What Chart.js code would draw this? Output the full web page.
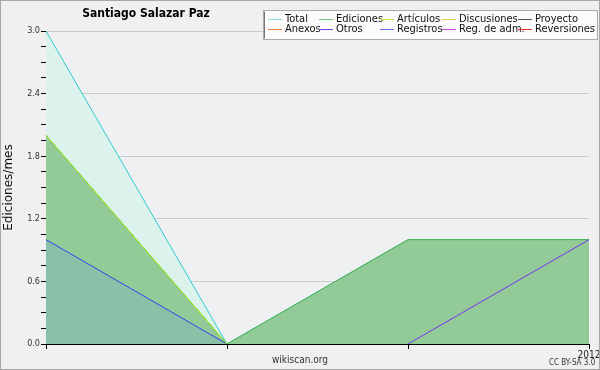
<!DOCTYPE html>
<html>
<head>
<meta charset="utf-8">
<script src="https://cdn.jsdelivr.net/npm/chart.js"></script>
<style>
  html, body { margin: 0; padding: 0; background: #f0f0f0; }
  canvas { display: block; }
</style>
</head>
<body>
<canvas id="myChart" width="600" height="370"></canvas>
<script>
const months = ["2011-10", "2011-11", "2011-12", "2012-01"];
const yearTicks = { "2012-01": "2012" };

const seriesNames = ["Total", "Ediciones", "Artículos", "Discusiones", "Proyecto",
  "Anexos", "Otros", "Registros", "Reg. de adm.", "Reversiones"];

const total = [3, 0, 1, 1];
const ediciones = [2, 0, 1, 1];
const articulos = [2, 0, null, null];
const otros = [null, null, 0, 1];
const registros = [1, 0, null, null];
const empty = [];

const legendColors = ["#90dcdc", "#70c080", "#c0ee40", "#eec850", "#555555",
  "#ee8040", "#7040dd", "#6070ee", "#cc50dd", "#ee3030"];

const FONT = "'DejaVu Sans Condensed', 'DejaVu Sans', sans-serif";
const FONT_WIDE = "'DejaVu Sans', sans-serif";

function line(label, data, color, fill, order) {
  return {
    label,
    data,
    borderColor: color,
    backgroundColor: fill || "transparent",
    fill: fill ? "origin" : false,
    borderWidth: 1,
    pointRadius: 0,
    tension: 0,
    order,
  };
}

const datasets = [
  line("Total", total, "#33cccc", "#dcf2ec", 5),
  line("Ediciones", ediciones, "#44b04c", "#93cb98", 4),
  line("Artículos", articulos, "#aaee11", null, 2),
  line("Discusiones", empty, "#eecc66", null, 9),
  line("Proyecto", empty, "#666666", null, 9),
  line("Anexos", empty, "#ee8855", null, 9),
  line("Otros", otros, "#7733ee", null, 1),
  line("Registros", registros, "#3344ee", "#88c0a8", 3),
  line("Reg. de adm.", empty, "#cc66dd", null, 9),
  line("Reversiones", empty, "#ee4444", null, 9),
];

function isMajor(v) {
  const r = v / 0.6;
  return Math.abs(r - Math.round(r)) < 1e-6;
}

const decor = {
  id: "decor",
  beforeDraw(chart) {
    const { ctx, chartArea: a } = chart;
    ctx.save();
    ctx.fillStyle = "#eef0f1";
    ctx.fillRect(a.left, a.top, a.right - a.left, a.bottom - a.top);
    ctx.restore();
  },
  afterDraw(chart) {
    const ctx = chart.ctx;
    ctx.save();
    // frame
    ctx.strokeStyle = "#a8a8a8";
    ctx.lineWidth = 1;
    ctx.strokeRect(0.5, 0.5, 599, 369);

    // title
    ctx.fillStyle = "#000";
    ctx.font = "bold 12px " + FONT;
    ctx.textAlign = "center";
    ctx.textBaseline = "middle";
    ctx.fillText("Santiago Salazar Paz", 146, 14);

    // footer
    ctx.fillStyle = "#333";
    ctx.font = "10px " + FONT;
    ctx.fillText("wikiscan.org", 300, 360);
    ctx.font = "8px " + FONT;
    ctx.textAlign = "left";
    ctx.fillText("CC BY-SA 3.0", 549, 363);

    // legend
    ctx.fillStyle = "#fbfbfb";
    ctx.fillRect(263.5, 10.5, 334, 29);
    ctx.strokeStyle = "#aaaaaa";
    ctx.strokeRect(263.5, 10.5, 334, 29);
    ctx.strokeStyle = "#777";
    ctx.beginPath();
    ctx.moveTo(264.5, 11.5);
    ctx.lineTo(264.5, 38.5);
    ctx.stroke();

    const cols = [268, 319, 380, 442, 518];
    const rows = [19, 29];
    ctx.font = "11px " + FONT;
    ctx.textBaseline = "middle";
    chart.data.datasets.forEach((ds, i) => {
      const x = cols[i % 5];
      const y = rows[Math.floor(i / 5)];
      ctx.strokeStyle = legendColors[i];
      ctx.beginPath();
      ctx.moveTo(x, y + 0.5);
      ctx.lineTo(x + 14, y + 0.5);
      ctx.stroke();
      ctx.fillStyle = "#111";
      ctx.fillText(seriesNames[i], x + 17, y);
    });
    ctx.restore();
  },
};

new Chart(document.getElementById("myChart").getContext("2d"), {
  type: "line",
  data: { labels: months, datasets },
  plugins: [decor],
  options: {
    responsive: false,
    animation: false,
    devicePixelRatio: 1,
    layout: { padding: { top: 31, right: 11, left: 0, bottom: 0 } },
    plugins: {
      legend: { display: false },
      title: { display: false },
      tooltip: { enabled: false },
    },
    scales: {
      x: {
        type: "category",
        offset: false,
        grid: {
          drawOnChartArea: false,
          drawTicks: true,
          tickLength: 5,
          color: "#000",
        },
        border: { color: "#000" },
        ticks: {
          autoSkip: false,
          maxRotation: 0,
          padding: 0,
          color: "#222",
          font: { family: FONT, size: 10 },
          callback: (val, idx) => yearTicks[months[idx]] || "",
        },
        afterFit: (scale) => {
          scale.height = 26;
          scale.paddingLeft = 0;
          scale.paddingRight = 0;
        },
      },
      y: {
        min: 0,
        max: 3,
        grid: {
          color: (c) => (c.tick && isMajor(c.tick.value) ? "#c9cdcd" : "transparent"),
          tickColor: "#000",
          tickLength: 5,
        },
        border: { color: "#000" },
        ticks: {
          stepSize: 0.15,
          autoSkip: false,
          padding: 1,
          color: "#333",
          font: { family: FONT, size: 9 },
          callback: (v) => (isMajor(v) ? v.toFixed(1) : ""),
        },
        title: {
          display: true,
          text: "Ediciones/mes",
          color: "#111",
          font: { family: FONT_WIDE, size: 12 },
          padding: { top: 2, bottom: 0 },
        },
        afterFit: (scale) => {
          scale.width = 46;
        },
      },
    },
  },
});
</script>
</body>
</html>
